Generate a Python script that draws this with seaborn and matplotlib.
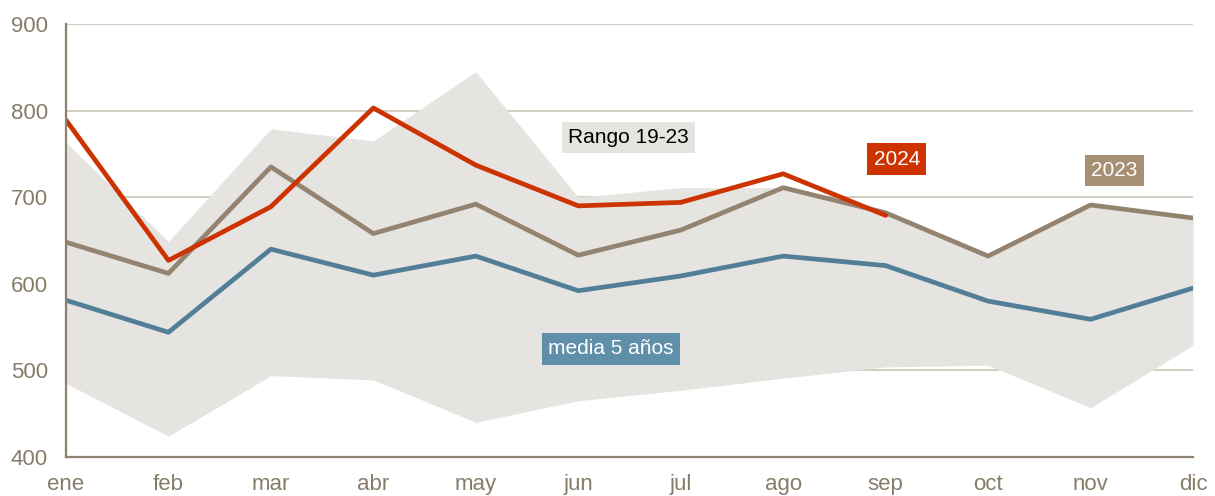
import matplotlib

matplotlib.use("Agg")

import matplotlib.pyplot as plt
import pandas as pd
import seaborn as sns


MONTHS = ["ene", "feb", "mar", "abr", "may", "jun", "jul", "ago", "sep", "oct", "nov", "dic"]

RANGE_LOW = [485, 424, 494, 489, 440, 465, 477, 491, 504, 506, 457, 529]
RANGE_HIGH = [763, 649, 779, 765, 845, 700, 711, 711, 685, 632, 691, 676]
MEDIA_5 = [581, 544, 640, 610, 632, 592, 609, 632, 621, 580, 559, 595]
Y2023 = [648, 612, 735, 658, 692, 633, 662, 711, 682, 632, 691, 676]
Y2024 = [789, 627, 689, 803, 737, 690, 694, 727, 679]

BAND = "#e6e4e0"
BLUE = "#527e98"
BLUE_LBL = "#5f8fa9"
BROWN = "#938370"
BROWN_LBL = "#a68f73"
RED = "#cc3300"
AXIS = "#8c8170"
GRID = "#cbc5b8"
TICK = "#877c6a"


def main() -> None:
    sns.set_theme(style="white")
    plt.rcParams["font.family"] = ["Liberation Sans", "DejaVu Sans"]

    x = list(range(len(MONTHS)))
    df = pd.DataFrame({"x": x, "media": MEDIA_5, "y2023": Y2023})
    df24 = pd.DataFrame({"x": x[: len(Y2024)], "y2024": Y2024})

    fig = plt.figure(figsize=(12.15, 4.96), dpi=100)
    ax = fig.add_axes([66 / 1215, 39 / 496, 1127 / 1215, 433 / 496])

    ax.fill_between(x, RANGE_LOW, RANGE_HIGH, color=BAND, lw=0, zorder=1)
    sns.lineplot(data=df, x="x", y="media", color=BLUE, lw=3.4, ax=ax, zorder=3)
    sns.lineplot(data=df, x="x", y="y2023", color=BROWN, lw=3.4, ax=ax, zorder=4)
    sns.lineplot(data=df24, x="x", y="y2024", color=RED, lw=3.4, ax=ax, zorder=5)

    ax.set_xlim(0, 11)
    ax.set_ylim(400, 900)
    ax.set_yticks([400, 500, 600, 700, 800, 900])
    ax.set_xticks(x)
    ax.set_xticklabels(MONTHS)
    ax.set_xlabel("")
    ax.set_ylabel("")
    ax.yaxis.grid(True, color=GRID, lw=1.2, zorder=0)
    ax.set_axisbelow(True)
    ax.tick_params(axis="both", length=0, labelsize=16, colors=TICK)
    ax.tick_params(axis="x", pad=12)
    ax.tick_params(axis="y", pad=13)

    for side in ["top", "right"]:
        ax.spines[side].set_visible(False)
    for side in ["left", "bottom"]:
        ax.spines[side].set_color(AXIS)
        ax.spines[side].set_linewidth(1.6)
        ax.spines[side].set_zorder(6)

    def label(xv, yv, text, bg, fg="white"):
        ax.text(xv, yv, text, ha="center", va="center", fontsize=15, color=fg, zorder=7,
                bbox=dict(boxstyle="square,pad=0.3", fc=bg, ec="none"))

    label(5.49, 769, "Rango 19-23", BAND, fg="black")
    label(8.11, 744, "2024", RED)
    label(10.23, 731, "2023", BROWN_LBL)
    label(5.32, 525, "media 5 años", BLUE_LBL)

    fig.savefig("out.png", dpi=100)


if __name__ == "__main__":
    main()
